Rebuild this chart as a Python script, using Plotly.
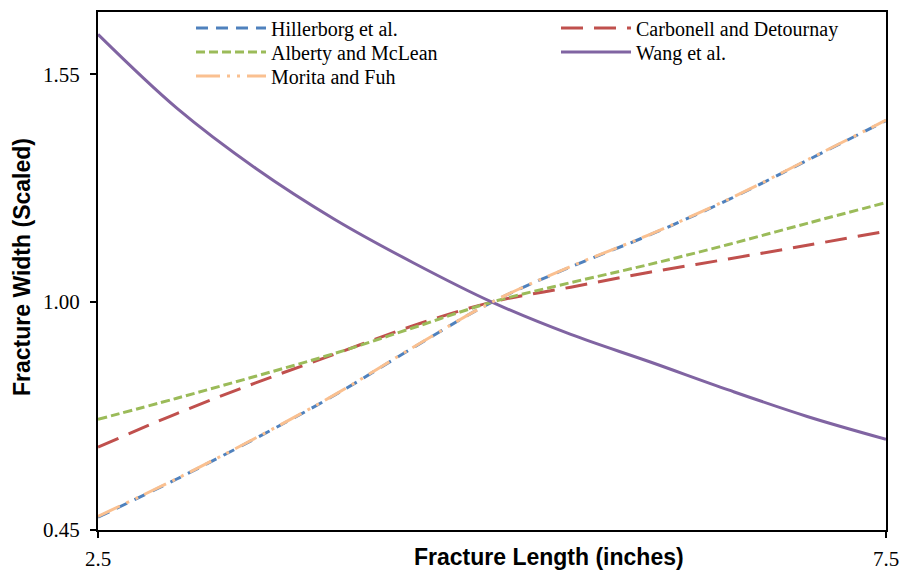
import plotly.graph_objects as go

# Fracture length (inches)
length = [2.5, 3.0, 3.5, 4.0, 4.5, 5.0, 5.5, 6.0, 6.5, 7.0, 7.5]

# Scaled fracture width for each model (normalised to 1.0 at 5 in.)
hillerborg = [0.481, 0.573, 0.671, 0.775, 0.890, 1.000, 1.085, 1.162, 1.247, 1.342, 1.438]
carbonell = [0.650, 0.731, 0.805, 0.874, 0.943, 1.000, 1.036, 1.072, 1.104, 1.137, 1.171]
alberty = [0.717, 0.768, 0.821, 0.876, 0.938, 1.000, 1.047, 1.091, 1.139, 1.190, 1.240]
wang = [1.646, 1.468, 1.323, 1.200, 1.095, 1.000, 0.922, 0.856, 0.788, 0.724, 0.669]
morita = [0.483, 0.574, 0.672, 0.776, 0.891, 1.000, 1.086, 1.163, 1.248, 1.343, 1.439]

x_ticks = [2.5, 7.5]
x_tick_text = ["2.5", "7.5"]
y_ticks = [0.45, 1.00, 1.55]
y_tick_text = ["0.45", "1.00", "1.55"]

# name, values, colour, dash pattern, legend id, (legend column, legend row)
series = [
    ("Hillerborg et al.", hillerborg, "#4F81BD", "12px,8px", "legend", (0, 0)),
    ("Carbonell and Detournay", carbonell, "#C0504D", "22px,11px", "legend2", (1, 0)),
    ("Alberty and McLean", alberty, "#9BBB59", "9px,4px", "legend3", (0, 1)),
    ("Wang et al.", wang, "#8064A2", "solid", "legend4", (1, 1)),
    ("Morita and Fuh", morita, "#FAC090", "24px,7px,3px,7px,3px,7px", "legend5", (0, 2)),
]

serif = "Liberation Serif, Times New Roman, serif"
sans = "Liberation Sans, Arial, sans-serif"

# plot-area geometry in pixels
PL, PR, PT, PB = 98, 886, 12, 530
PW, PH = PR - PL, PB - PT

col_x = [191, 556]      # left edge of each legend column
row_y = [28, 52, 76]    # centre of each legend row

fig = go.Figure()
legends = {}
for name, ys, color, dash, leg, (col, row) in series:
    fig.add_trace(go.Scatter(
        x=length, y=ys, name=name, mode="lines", legend=leg,
        line=dict(color=color, width=3, dash=dash, shape="spline", smoothing=1.0),
    ))
    legends[leg] = dict(
        x=(col_x[col] - PL) / PW, y=(PB - row_y[row]) / PH,
        xanchor="left", yanchor="middle",
        itemwidth=70,
        font=dict(family=serif, size=20, color="black"),
        bgcolor="rgba(0,0,0,0)", borderwidth=0,
    )

axis_style = dict(
    showgrid=False, zeroline=False,
    showline=True, linecolor="black", linewidth=2, mirror=True,
    ticks="outside", ticklen=6, tickwidth=1.5, tickcolor="black",
    tickfont=dict(family=serif, size=21, color="black"),
    automargin=False,
)

fig.update_layout(
    width=901, height=573,
    margin=dict(l=PL, r=901 - PR, t=PT, b=573 - PB, autoexpand=False),
    paper_bgcolor="white", plot_bgcolor="white",
    showlegend=True,
    xaxis=dict(range=[2.5, 7.5], tickvals=x_ticks, ticktext=x_tick_text,
               ticklabelstandoff=3, **axis_style),
    yaxis=dict(range=[0.45, 1.70], tickvals=y_ticks, ticktext=y_tick_text,
               ticklabelstandoff=6, **axis_style),
    annotations=[
        dict(text="<b>Fracture Length (inches)</b>", xref="paper", yref="paper",
             x=(549 - PL) / PW, y=-(557 - PB) / PH, xanchor="center", yanchor="middle",
             showarrow=False, font=dict(family=sans, size=23, color="black")),
        dict(text="<b>Fracture Width (Scaled)</b>", xref="paper", yref="paper",
             x=-(PL - 22) / PW, y=(PB - 267) / PH, xanchor="center", yanchor="middle",
             textangle=-90, showarrow=False, font=dict(family=sans, size=23, color="black")),
    ],
    **legends,
)

fig.write_html("out.html")
